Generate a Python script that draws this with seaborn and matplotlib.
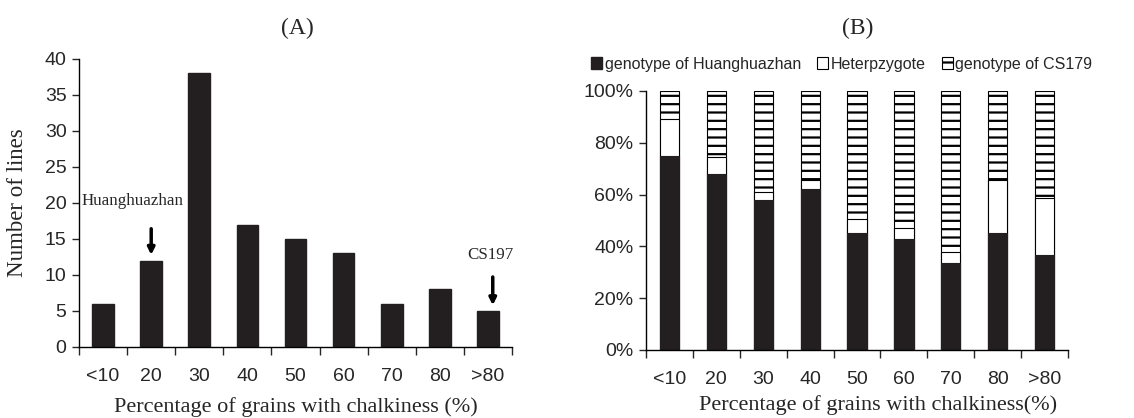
import matplotlib
matplotlib.use("Agg")
import matplotlib.pyplot as plt
from matplotlib.patches import Patch
import seaborn as sns
import pandas as pd

# Data
categories = ["<10", "20", "30", "40", "50", "60", "70", "80", ">80"]
n_lines = [6, 12, 38, 17, 15, 13, 6, 8, 5]
pct_huanghuazhan = [75, 68, 58, 62, 45, 43, 33.5, 45, 36.5]
pct_heterozygote = [14, 6.5, 3, 3.5, 5.5, 4, 4.5, 20.5, 22]
legend_labels = ["genotype of Huanghuazhan", "Heterpzygote", "genotype of CS179"]

sns.set_style("ticks")
plt.rcParams["font.family"] = ["Liberation Sans", "DejaVu Sans"]
plt.rcParams["hatch.linewidth"] = 1.6
plt.rcParams["hatch.color"] = "black"
serif = ["Liberation Serif", "DejaVu Serif"]

fig = plt.figure(figsize=(11.34, 4.18), dpi=100)
ax_a = fig.add_axes([0.0697, 0.170, 0.3818, 0.689])
ax_b = fig.add_axes([0.5697, 0.1627, 0.3721, 0.6196])

# Panel A: distribution of lines
df_a = pd.DataFrame({"cat": categories, "n": n_lines})
sns.barplot(data=df_a, x="cat", y="n", color="#231f20", width=0.45,
            saturation=1, edgecolor="#231f20", ax=ax_a)
ax_a.set_ylim(0, 40)
ax_a.set_yticks(range(0, 41, 5))

# Panel B: stacked genotype proportions (drawn as overlapping cumulative bars)
df_b = pd.DataFrame({"cat": categories,
                     "huang": pct_huanghuazhan,
                     "het": pct_heterozygote})
df_b["top"] = 100
df_b["mid"] = df_b["huang"] + df_b["het"]
sns.barplot(data=df_b, x="cat", y="top", color="white", width=0.41,
            saturation=1, edgecolor="black", linewidth=0.8, hatch="--", ax=ax_b)
sns.barplot(data=df_b, x="cat", y="mid", color="white", width=0.41,
            saturation=1, edgecolor="black", linewidth=0.8, ax=ax_b)
sns.barplot(data=df_b, x="cat", y="huang", color="#231f20", width=0.41,
            saturation=1, edgecolor="#231f20", linewidth=0.8, ax=ax_b)
ax_b.set_ylim(0, 100)
ax_b.set_yticks(range(0, 101, 20))
ax_b.set_yticklabels([f"{v}%" for v in range(0, 101, 20)])

handles = [Patch(facecolor="#231f20", edgecolor="#231f20"),
           Patch(facecolor="white", edgecolor="black", linewidth=0.8),
           Patch(facecolor="white", edgecolor="black", linewidth=0.8, hatch="--")]
ax_b.legend(handles, legend_labels, loc="lower left", bbox_to_anchor=(-0.145, 1.05),
            ncol=3, frameon=False, fontsize=11.5, handlelength=0.7, handleheight=0.7,
            handletextpad=0.15, columnspacing=1.0, borderaxespad=0)

for ax in (ax_a, ax_b):
    sns.despine(ax=ax)
    ax.set_xlim(-0.5, 8.5)
    ax.set_xticks([i - 0.5 for i in range(10)], minor=True)
    ax.tick_params(axis="x", which="major", length=0, pad=15, labelsize=14)
    ax.tick_params(axis="x", which="minor", length=6, width=1, direction="out")
    ax.tick_params(axis="y", length=5, width=1, pad=4, labelsize=14)
    ax.set_ylabel("")
    for s in ("left", "bottom"):
        ax.spines[s].set_linewidth(1)
        ax.spines[s].set_color("black")

ax_a.set_xlabel("Percentage of grains with chalkiness (%)", family=serif, fontsize=16)
ax_a.xaxis.set_label_coords(0.5, -0.175)
ax_b.set_xlabel("Percentage of grains with chalkiness(%)", family=serif, fontsize=16)
ax_b.xaxis.set_label_coords(0.55, -0.175)
ax_a.set_ylabel("Number of lines", family=serif, fontsize=16.5, labelpad=12)

# Parent annotations
ax_a.text(0.62, 20.2, "Huanghuazhan", family=serif, fontsize=12.2, ha="center", va="center")
ax_a.annotate("", xy=(1, 12.4), xytext=(1, 16.8),
              arrowprops=dict(arrowstyle="-|>", lw=2.5, color="black", mutation_scale=10))
ax_a.text(8.05, 12.8, "CS197", family=serif, fontsize=12.2, ha="center", va="center")
ax_a.annotate("", xy=(8.1, 5.4), xytext=(8.1, 10.1),
              arrowprops=dict(arrowstyle="-|>", lw=2.5, color="black", mutation_scale=10))

fig.text(0.262, 0.933, "(A)", family=serif, fontsize=17, ha="center", va="center")
fig.text(0.756, 0.933, "(B)", family=serif, fontsize=17, ha="center", va="center")

fig.savefig("out.png", dpi=100)
